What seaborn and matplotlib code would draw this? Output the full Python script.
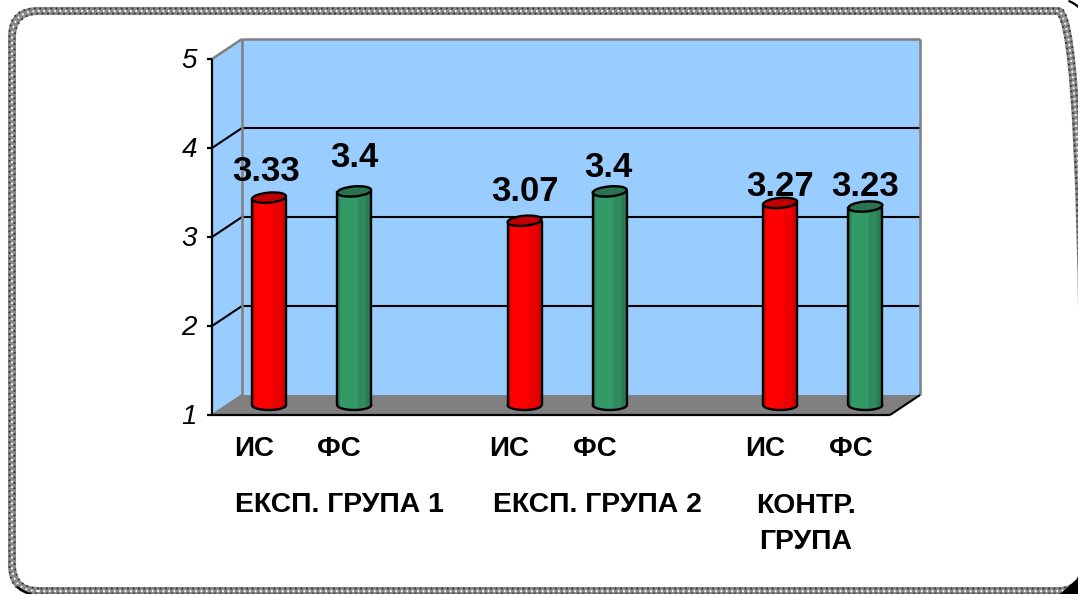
import numpy as np
import pandas as pd
import matplotlib
matplotlib.use("Agg")
import matplotlib.pyplot as plt
import seaborn as sns
from matplotlib.patches import Polygon, FancyBboxPatch, Ellipse
from matplotlib.transforms import IdentityTransform

# values
groups = ["ЕКСП. ГРУПА 1", "ЕКСП. ГРУПА 2", "КОНТР.\nГРУПА"]
phases = ["ИС", "ФС"]
initial_scores = [3.33, 3.07, 3.27]
final_scores = [3.4, 3.4, 3.23]
y_ticks = [1, 2, 3, 4, 5]
# the value labels were moved by hand in the original (pixels above bar top, pixels sideways)
label_lift = [26, 34, 29, 24, 16, 20]
label_shift = [-3, 0, 0, -1, 0, 0]

W, H = 1078, 594
DEPTH = (15, 10)
BLUE = "#99CCFF"
GRAY = "#808080"
RED = "#FF0000"
GREEN = "#339966"

sns.set_theme(style="white")
plt.rcParams["font.family"] = ["Liberation Sans", "DejaVu Sans"]

rows = []
order = []
for i, g in enumerate(groups):
    rows.append({"slot": f"{i}a", "phase": phases[0], "score": initial_scores[i]})
    rows.append({"slot": f"{i}b", "phase": phases[1], "score": final_scores[i]})
    order += [f"{i}a", f"{i}b"]
    if i < len(groups) - 1:
        order.append(f"gap{i}")
df = pd.DataFrame(rows)

fig = plt.figure(figsize=(W / 100, H / 100), dpi=100, facecolor="white")
ax = fig.add_axes([227 / W, (H - 405) / H, 678 / W, 356 / H])
ax.patch.set_visible(False)

sns.barplot(data=df, x="slot", y="score", hue="phase", order=order, hue_order=phases,
            palette=[RED, GREEN], width=0.4, dodge=False, legend=False, linewidth=0,
            ax=ax, zorder=5)
ax.set_xlim(-0.493, 7.465)
ax.set_ylim(1, 5)
ax.set_xlabel("")
ax.set_ylabel("")
ax.set_xticks([])
ax.set_yticks([])
sns.despine(ax=ax, left=True, bottom=True)

px = IdentityTransform()


def pt(x, v, depth=0):
    # display position of a data point, pushed back (+1) or forward (-1) in the fake 3d box
    p = ax.transData.transform((x, v))
    return p[0] + depth * DEPTH[0], p[1] + depth * DEPTH[1]


def poly(points, **kw):
    ax.add_patch(Polygon(points, transform=px, clip_on=False, **kw))


def seg(a, b, color="black", lw=1.5, z=2):
    ax.plot([a[0], b[0]], [a[1], b[1]], transform=px, color=color, lw=lw,
            clip_on=False, zorder=z, solid_capstyle="butt")


x0, x1 = ax.get_xlim()

# walls and floor
poly([pt(x0, 1, 1), pt(x1, 1, 1), pt(x1, 5, 1), pt(x0, 5, 1)], facecolor=BLUE, edgecolor="none", zorder=1)
poly([pt(x0, 1, -1), pt(x0, 1, 1), pt(x0, 5, 1), pt(x0, 5, -1)], facecolor=BLUE, edgecolor="none", zorder=1)
poly([pt(x0, 1, -1), pt(x1, 1, -1), pt(x1, 1, 1), pt(x0, 1, 1)], facecolor=GRAY, edgecolor="none", zorder=1)

for v in y_ticks[1:-1]:
    seg(pt(x0, v, -1), pt(x0, v, 1))
    seg(pt(x0, v, 1), pt(x1, v, 1))
seg(pt(x0, 5, -1), pt(x0, 5, 1), color=GRAY, lw=1.8)
seg(pt(x0, 5, 1), pt(x1, 5, 1), color=GRAY, lw=1.8)
seg(pt(x0, 1, 1), pt(x0, 5, 1), color=GRAY, lw=1.8)
seg(pt(x1, 1, 1), pt(x1, 5, 1), color=GRAY, lw=1.8)
seg(pt(x0, 1, -1), pt(x0, 1, 1), color=GRAY, lw=1.5)
seg(pt(x0, 1, -1), pt(x0, 5, -1), lw=1.6, z=3)
seg(pt(x0, 1, -1), pt(x1, 1, -1), lw=1.6, z=3)
seg(pt(x1, 1, -1), pt(x1, 1, 1), lw=1.5, z=3)

for v in y_ticks:
    p = pt(x0, v, -1)
    seg((p[0] - 5, p[1]), p, lw=1.6, z=3)
    ax.text(p[0] - 15, p[1] - 2, str(v), transform=px, ha="right", va="center",
            fontsize=20, style="italic", color="black", clip_on=False)


def strip(cx, w, top, a, b, color, z):
    # piece of the cylinder body between fractions a and b of its width
    xs = np.linspace(a, b, 8)
    low = top["bottom"] - 5 * np.sqrt(np.clip(1 - (2 * xs - 1) ** 2, 0, 1))
    pts = [(cx - w / 2 + w * a, top["y"])] + [(cx - w / 2 + w * b, top["y"])]
    pts += [(cx - w / 2 + w * x, y) for x, y in zip(xs[::-1], low[::-1])]
    ax.add_patch(Polygon(pts, transform=px, facecolor=color, edgecolor="none", clip_on=False, zorder=z))


# cylinders on top of the seaborn bars
shades = {0: ("#FF0000", "#EE0000", "#DA0000", "#C00000"),
          1: ("#339966", "#2F8A5D", "#2C7A55", "#2B7350")}
for hue_i, cont in enumerate(ax.containers):
    for bar in cont:
        h = bar.get_height()
        if not np.isfinite(h) or h == 0:
            continue
        cx_d = bar.get_x() + bar.get_width() / 2
        left = pt(bar.get_x(), h)
        right = pt(bar.get_x() + bar.get_width(), h)
        base = pt(cx_d, 1)
        cx, w = (left[0] + right[0]) / 2, right[0] - left[0]
        info = {"y": left[1], "bottom": base[1]}
        main, mid, dark, cap = shades[hue_i]
        strip(cx, w, info, 0, 1, main, 6)
        strip(cx, w, info, 0, 0.08, dark, 7)
        strip(cx, w, info, 0.6, 0.84, mid, 7)
        strip(cx, w, info, 0.84, 1, dark, 7)
        t = np.linspace(np.pi, 2 * np.pi, 30)
        ax.plot(cx + w / 2 * np.cos(t), base[1] + 5 * np.sin(t), transform=px, color="black", lw=1.7,
                clip_on=False, zorder=8)
        seg((cx - w / 2, left[1]), (cx - w / 2, base[1]), lw=1.7, z=8)
        seg((cx + w / 2, left[1]), (cx + w / 2, base[1]), lw=1.7, z=8)
        ax.add_patch(Ellipse((cx, left[1]), w, 10, angle=5, transform=px, facecolor=cap, edgecolor="black",
                             lw=1.7, clip_on=False, zorder=9))

# value labels, same order as the slots
labels = sorted(
    [(order.index(df.slot[i]), df.score[i]) for i in df.index]
)
for k, (slot, score) in enumerate(labels):
    p = pt(slot, score)
    ax.text(p[0] + label_shift[k], p[1] + label_lift[k], f"{score:g}", transform=px, ha="center",
            va="center", fontsize=25, fontweight="bold", color="black", zorder=10, clip_on=False)

# category labels sit on the front edge of the floor
for slot, name in [(order.index(s), df.phase[df.slot == s].iloc[0]) for s in df.slot]:
    p = pt(slot, 1, -1)
    ax.text(p[0], H - 449, name, transform=px, ha="center", va="center", fontsize=20,
            fontweight="bold", color="black", clip_on=False)

group_x = [339, 597, 806]
group_y = [505, 505, 524]
for gx, gy, g in zip(group_x, group_y, groups):
    ax.text(gx, H - gy, g, transform=px, ha="center", va="center",
            fontsize=20.4, fontweight="bold", color="black", clip_on=False, linespacing=1.5)


# dotted frame of the slide, its right side runs off the picture
def frame(inset, color, lw, ls="-"):
    box = FancyBboxPatch((12 + inset, 3 + inset), 1072 - 2 * inset, 580 - 2 * inset,
                         boxstyle="round,pad=0,rounding_size=26", transform=px, facecolor="none",
                         edgecolor=color, lw=lw, ls=ls, clip_on=False)
    fig.add_artist(box)


frame(0, "#8A8A8A", 5.8)
frame(-2.5, "#333333", 1.3, ls=(0, (1, 2)))
frame(2.5, "#333333", 1.3, ls=(0, (1, 2)))
frame(0, "white", 1.3, ls=(0, (1, 2)))

# corner shadows follow the rounded corners
for cx, cy, a0, a1 in [(1058, H - 9 - 26 + 6, 40, 68), (38, 29, 228, 255)]:
    t = np.radians(np.linspace(a0, a1, 12))
    fig.add_artist(plt.Line2D(cx + 30 * np.cos(t), cy + 30 * np.sin(t), transform=px, color="black", lw=1.6))
fig.add_artist(Polygon([(W, 0), (W - 18, 0), (W, 16)], transform=px, facecolor="black", edgecolor="none"))

fig.savefig("out.png", dpi=100)
